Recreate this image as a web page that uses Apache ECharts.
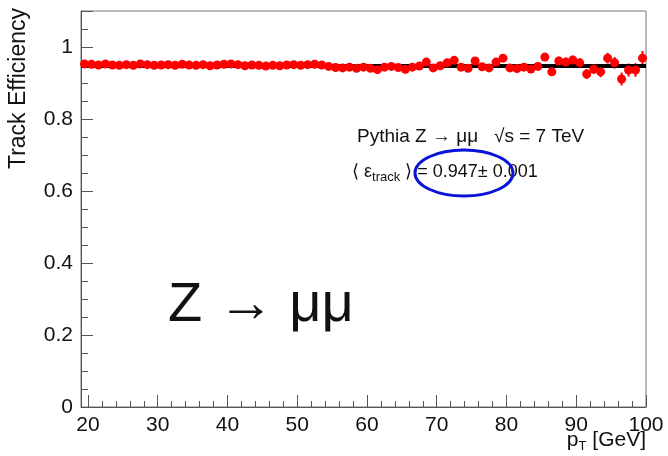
<!DOCTYPE html>
<html><head><meta charset="utf-8">
<script src="https://cdn.jsdelivr.net/npm/echarts@6/dist/echarts.min.js"></script>
<style>html,body{margin:0;padding:0;background:#fff}#c{width:668px;height:456px}</style>
</head><body><div id="c"></div>
<script>
// bin centres (GeV)
const ptBins = [19.5,20.5,21.5,22.5,23.5,24.5,25.5,26.5,27.5,28.5,29.5,
  30.5,31.5,32.5,33.5,34.5,35.5,36.5,37.5,38.5,39.5,
  40.5,41.5,42.5,43.5,44.5,45.5,46.5,47.5,48.5,49.5,
  50.5,51.5,52.5,53.5,54.5,55.5,56.5,57.5,58.5,59.5,
  60.5,61.5,62.5,63.5,64.5,65.5,66.5,67.5,68.5,69.5,
  70.5,71.5,72.5,73.5,74.5,75.5,76.5,77.5,78.5,79.5,
  80.5,81.5,82.5,83.5,84.5,85.5,86.5,87.5,88.5,89.5,
  90.5,91.5,92.5,93.5,94.5,95.5,96.5,97.5,98.5,99.5];
const efficiency = [0.953,0.952,0.950,0.953,0.950,0.949,0.951,0.949,0.953,0.951,0.949,
  0.950,0.951,0.949,0.952,0.950,0.949,0.951,0.948,0.950,0.952,
  0.953,0.951,0.948,0.950,0.949,0.947,0.949,0.948,0.950,0.951,
  0.949,0.951,0.952,0.950,0.946,0.943,0.942,0.944,0.941,0.944,
  0.941,0.937,0.944,0.946,0.943,0.938,0.944,0.947,0.958,0.942,
  0.948,0.956,0.963,0.944,0.941,0.961,0.945,0.942,0.958,0.969,
  0.942,0.940,0.944,0.939,0.946,0.972,0.931,0.961,0.958,0.964,
  0.956,0.925,0.939,0.931,0.969,0.956,0.911,0.936,0.936,0.969];
const errors = [0.002,0.002,0.002,0.002,0.002,0.002,0.002,0.002,0.002,0.002,0.002,
  0.002,0.002,0.002,0.002,0.002,0.002,0.002,0.002,0.002,0.002,
  0.002,0.002,0.002,0.002,0.003,0.003,0.003,0.003,0.003,0.003,
  0.003,0.003,0.003,0.003,0.004,0.004,0.004,0.004,0.004,0.004,
  0.005,0.005,0.005,0.005,0.005,0.005,0.006,0.006,0.006,0.006,
  0.007,0.007,0.007,0.007,0.008,0.008,0.008,0.008,0.009,0.009,
  0.009,0.010,0.010,0.010,0.011,0.011,0.011,0.012,0.012,0.012,
  0.013,0.014,0.014,0.015,0.015,0.016,0.018,0.018,0.019,0.020];
const fitValue = 0.947;
const fitRange = [19, 100];
const xRange = [19, 100];
const xTicks = [20,30,40,50,60,70,80,90,100];
const xMinorTicks = [20,22,24,26,28,30,32,34,36,38,40,42,44,46,48,50,52,54,56,58,60,
  62,64,66,68,70,72,74,76,78,80,82,84,86,88,90,92,94,96,98,100];
const yTicks = [0,0.2,0.4,0.6,0.8,1];

const FONT = '"Liberation Sans", Arial, sans-serif';
const chart = echarts.init(document.getElementById('c'));
const pts = ptBins.map((x,i)=>[x, efficiency[i], errors[i]]);
const AX = '#555';

chart.setOption({
  animation:false,
  grid:{left:81,right:22,top:11,bottom:49,show:true,borderColor:'#777',borderWidth:1},
  xAxis:[{type:'value',min:xRange[0],max:xRange[1],
    axisLine:{show:true,onZero:false,lineStyle:{color:AX,width:1}},
    axisTick:{show:true,inside:true,length:12,customValues:xTicks,lineStyle:{color:AX}},
    splitLine:{show:false},
    axisLabel:{color:'#111',fontSize:21,fontFamily:FONT,margin:8,customValues:xTicks}
  },{type:'value',min:xRange[0],max:xRange[1],position:'bottom',
    axisLine:{show:false,onZero:false},
    axisTick:{show:true,inside:true,length:6,customValues:xMinorTicks,lineStyle:{color:AX}},
    splitLine:{show:false},
    axisLabel:{show:false}
  }],
  yAxis:{type:'value',min:0,max:1.1,interval:0.2,
    axisLine:{show:true,lineStyle:{color:AX,width:1}},
    axisTick:{show:true,inside:true,length:12,lineStyle:{color:AX}},
    minorTick:{show:true,splitNumber:4,length:7,lineStyle:{color:AX}},
    splitLine:{show:false},
    axisLabel:{color:'#111',fontSize:21,fontFamily:FONT,margin:8,showMaxLabel:false,
      formatter:v=>{const t=yTicks.find(k=>Math.abs(k-v)<1e-6);return t===undefined?'':String(t);}}
  },
  series:[
    {type:'custom',data:pts,z:3,
      renderItem:(params,api)=>{
        const x=api.value(0),y=api.value(1),e=api.value(2);
        const a=api.coord([x,y-e]),b=api.coord([x,y+e]);
        return {type:'line',shape:{x1:a[0],y1:a[1],x2:b[0],y2:b[1]},style:{stroke:'#ff0000',lineWidth:2}};
      }},
    {type:'line',data:[[fitRange[0],fitValue],[fitRange[1],fitValue]],symbol:'none',z:4,
      lineStyle:{color:'#000',width:4}},
    {type:'scatter',data:pts.map(p=>[p[0],p[1]]),symbolSize:9,z:5,
      itemStyle:{color:'#ff0000',opacity:1}}
  ],
  graphic:[
    {type:'text',x:19,y:8,rotation:Math.PI/2,
      style:{text:'Track Efficiency',font:'23px '+FONT,fill:'#111',align:'right',verticalAlign:'middle'}},
    {type:'text',x:646,y:453,
      style:{text:'{a|p}{s|T}{a| [GeV]}',align:'right',verticalAlign:'bottom',
        rich:{a:{font:'21px '+FONT,fill:'#111'},s:{font:'13px '+FONT,fill:'#111',padding:[12,0,0,0]}}}},
    {type:'text',x:357,y:137,
      style:{text:'Pythia Z \u2192 \u03bc\u03bc   \u221as = 7 TeV',font:'19px '+FONT,fill:'#111',verticalAlign:'middle'}},
    {type:'text',x:352,y:172,
      style:{text:'{a|\u27e8 \u03b5}{s|track}{a| \u27e9 = 0.947\u00b1 0.001}',verticalAlign:'middle',
        rich:{a:{font:'18px '+FONT,fill:'#111'},s:{font:'13px '+FONT,fill:'#111',padding:[10,0,0,0]}}}},
    {type:'ellipse',shape:{cx:464,cy:173,rx:49,ry:23},z:10,
      style:{fill:null,stroke:'#0a14d8',lineWidth:3}},
    {type:'text',x:168,y:306,
      style:{text:'Z \u2192 \u03bc\u03bc',font:'56px '+FONT,fill:'#111',verticalAlign:'middle'}}
  ]
});
</script></body></html>
